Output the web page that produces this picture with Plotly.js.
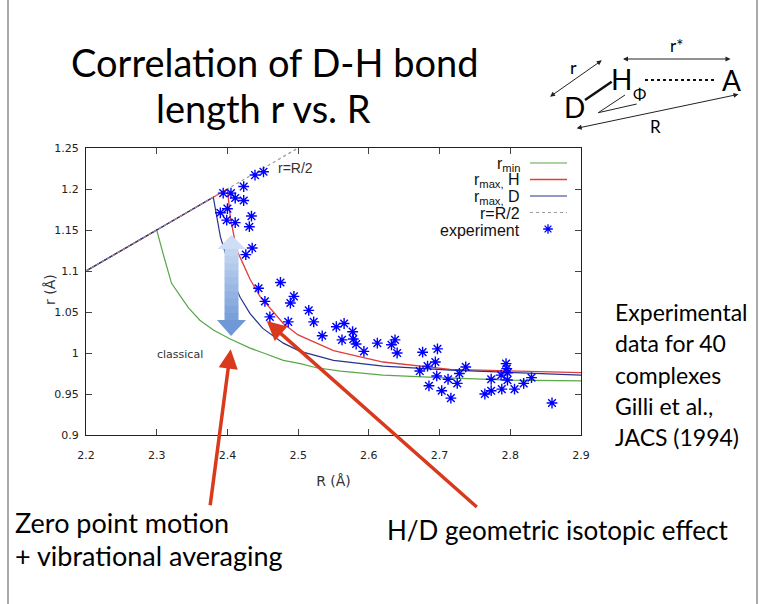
<!DOCTYPE html>
<html><head><meta charset="utf-8">
<script src="https://cdn.plot.ly/plotly-3.0.1.min.js"></script>
<style>html,body{margin:0;padding:0;background:#fff;}#chart{width:771px;height:604px;}</style>
</head><body><div id="chart"></div>
<script>
// ---- data ----
const rMinR = [2.2,2.3,2.31,2.321,2.333,2.345,2.361,2.38,2.404,2.432,2.451,2.479,2.503,2.526,2.56,2.62,2.7,2.8,2.9];
const rMinr = [1.1,1.15,1.118,1.085,1.07,1.055,1.04,1.028,1.017,1.006,1.0,0.991,0.987,0.982,0.978,0.973,0.97,0.967,0.966];
const rMaxHR = [2.2,2.3,2.4,2.404,2.408,2.413,2.422,2.432,2.446,2.465,2.479,2.5,2.55,2.62,2.715,2.9];
const rMaxHr = [1.1,1.15,1.2,1.166,1.146,1.126,1.109,1.09,1.069,1.05,1.036,1.022,1.003,0.989,0.98,0.976];
const rMaxDR = [2.2,2.3,2.38,2.385,2.39,2.397,2.404,2.41,2.418,2.432,2.45,2.479,2.503,2.55,2.62,2.715,2.9];
const rMaxDr = [1.1,1.15,1.19,1.166,1.142,1.122,1.1,1.083,1.068,1.048,1.03,1.012,1.002,0.991,0.984,0.979,0.973];
const halfR = [2.2,2.5];
const halfr = [1.1,1.25];
const expR = [2.439,2.451,2.423,2.394,2.405,2.411,2.423,2.390,2.400,2.399,2.411,2.434,2.431,2.435,2.426,
  2.444,2.475,2.453,2.494,2.489,2.460,2.486,2.515,2.522,2.534,2.554,2.565,2.562,2.577,2.578,2.582,2.593,2.612,2.637,2.632,2.640,
  2.676,2.697,2.694,2.683,2.672,2.696,2.685,2.703,2.712,2.716,2.725,2.728,2.737,2.764,2.773,2.773,2.787,2.788,2.794,2.795,2.796,2.796,2.806,2.819,2.830,2.859];
const expr = [1.217,1.221,1.203,1.195,1.195,1.189,1.186,1.171,1.176,1.162,1.159,1.167,1.154,1.128,1.120,
  1.079,1.086,1.063,1.069,1.061,1.044,1.038,1.052,1.038,1.021,1.032,1.036,1.016,1.026,1.017,1.011,1.002,1.012,1.016,1.010,1.000,
  1.001,1.005,0.989,0.984,0.978,0.972,0.960,0.954,0.968,0.945,0.963,0.975,0.983,0.950,0.954,0.968,0.973,0.956,0.987,0.981,0.976,0.967,0.956,0.963,0.970,0.939];
const xTickVals = [2.2,2.3,2.4,2.5,2.6,2.7,2.8,2.9];
const xTickText = ['2.2','2.3','2.4','2.5','2.6','2.7','2.8','2.9'];
const yTickVals = [0.9,0.95,1,1.05,1.1,1.15,1.2,1.25];
const yTickText = ['0.9','0.95','1','1.05','1.1','1.15','1.2','1.25'];
const legendLabels = ['r<sub>min</sub>','r<sub>max,</sub> H','r<sub>max,</sub> D','r=R/2','experiment'];

// ---- geometry helpers (pixel -> paper) ----
const W=771, H=604, ML=86, MR=190, MT=148, MB=169;
const PW=W-ML-MR, PH=H-MT-MB;
const px = v => (v-ML)/PW;
const py = v => (H-MB-v)/PH;

const GREEN='#58a846', RED='#e23c3c', BLUE='#27348b', PTS='#0000ff', ARROW='#d9391c';

const traces = [
  {x:rMinR, y:rMinr, mode:'lines', line:{color:GREEN,width:1.2}, hoverinfo:'skip'},
  {x:rMaxHR, y:rMaxHr, mode:'lines', line:{color:RED,width:1.3}, hoverinfo:'skip'},
  {x:rMaxDR, y:rMaxDr, mode:'lines', line:{color:BLUE,width:1.2}, hoverinfo:'skip'},
  {x:halfR, y:halfr, mode:'lines', line:{color:'#9a9a9a',width:1.2,dash:'dot'}, hoverinfo:'skip'},
  {x:expR, y:expr, mode:'markers', marker:{symbol:'asterisk-open',size:9,color:PTS,line:{color:PTS,width:1.4}}, hoverinfo:'skip'},
  // legend sample marker, on an overlay axis in plot-fraction units
  {x:[px(548)], y:[py(229)], xaxis:'x2', yaxis:'y2', mode:'markers', cliponaxis:false,
   marker:{symbol:'asterisk-open',size:8,color:PTS,line:{color:PTS,width:1.3}}, hoverinfo:'skip'}
];

const shapes = [];
const annotations = [];
function pline(x0,y0,x1,y1,color,width,dash){
  shapes.push({type:'line',xref:'paper',yref:'paper',x0:px(x0),y0:py(y0),x1:px(x1),y1:py(y1),
    line:{color:color,width:width,dash:dash||'solid'},layer:'above'});
}
function ptext(text,x,y,size,family,color,xanchor,angle){
  annotations.push({text:text,xref:'paper',yref:'paper',x:px(x),y:py(y),showarrow:false,textangle:angle||0,
    xanchor:xanchor||'center',yanchor:'middle',font:{size:size,family:family,color:color||'#000'}});
}
function parrow(tipx,tipy,tailx,taily,color,width,size,head,both){
  const a = {text:'',xref:'paper',yref:'paper',x:px(tipx),y:py(tipy),ax:tailx-tipx,ay:taily-tipy,
    showarrow:true,arrowcolor:color,arrowwidth:width,arrowsize:size,arrowhead:head,standoff:0,startstandoff:0};
  if(both){a.arrowside='end+start'; a.startarrowhead=head; a.startarrowsize=size;}
  annotations.push(a);
}

// slide border lines
shapes.push({type:'line',xref:'paper',yref:'paper',x0:px(8),x1:px(8),y0:py(0),y1:py(604),line:{color:'#555',width:1}});
shapes.push({type:'line',xref:'paper',yref:'paper',x0:px(757),x1:px(757),y0:py(0),y1:py(604),line:{color:'#555',width:1}});

// legend
const legY = [163,179.5,196,212.5,229];
pline(530,legY[0],567,legY[0],GREEN,1.2);
pline(530,legY[1],567,legY[1],RED,1.6);
pline(530,legY[2],567,legY[2],BLUE,1.2);
pline(530,legY[3],567,legY[3],'#9a9a9a',1.2,'dot');
legendLabels.forEach((t,i)=>ptext(t,522,legY[i]+1,16,'Liberation Sans, Arial, sans-serif','#111','right'));

// in-plot labels
annotations.push({text:'r=R/2',x:2.496,y:1.226,xref:'x',yref:'y',showarrow:false,font:{family:'Liberation Sans, Arial',size:14,color:'#333'}});
annotations.push({text:'classical',x:2.333,y:0.998,xref:'x',yref:'y',showarrow:false,font:{family:'DejaVu Sans',size:11,color:'#333'}});
// y axis title (placed like the reference)
ptext('r (Å)',50,290,14,'DejaVu Sans','#333','center',-90);

// blue gradient double arrow (bands)
function hex(c){return [parseInt(c.slice(1,3),16),parseInt(c.slice(3,5),16),parseInt(c.slice(5,7),16)];}
function mix(a,b,t){const A=hex(a),B=hex(b);return 'rgb('+A.map((v,i)=>Math.round(v+(B[i]-v)*t)).join(',')+')';}
const cTop='#d2e2f7', cBot='#6a94d4';
const yTip=235, yHeadT=249, yHeadB=320, yTipB=336;
const pth = pts => 'M'+pts.map(p=>px(p[0])+','+py(p[1])).join(' L')+' Z';
shapes.push({type:'path',xref:'paper',yref:'paper',path:pth([[231.5,yTip],[245.5,yHeadT],[217.5,yHeadT]]),fillcolor:mix(cTop,cBot,0.05),line:{width:0},layer:'above'});
const nb=10;
for(let i=0;i<nb;i++){
  const y0=yHeadT+(yHeadB-yHeadT)*i/nb, y1=yHeadT+(yHeadB-yHeadT)*(i+1)/nb+0.6;
  shapes.push({type:'rect',xref:'paper',yref:'paper',x0:px(224.5),x1:px(238.5),y0:py(y0),y1:py(y1),
    fillcolor:mix(cTop,cBot,0.12+0.76*(i+0.5)/nb),line:{width:0},layer:'above'});
}
shapes.push({type:'path',xref:'paper',yref:'paper',path:pth([[217,yHeadB],[246,yHeadB],[231,yTipB]]),fillcolor:mix(cTop,cBot,0.95),line:{width:0},layer:'above'});

// red arrows
parrow(230.7,349.3,210,506.7,ARROW,3.5,1.1,2);
parrow(266.7,321,478.3,508.3,ARROW,3.5,1.1,2);

// slide texts
const SF='Lato, Open Sans, sans-serif';
ptext('Correlation of D-H bond',275,62,38,SF);
ptext('length r vs. R',263,108,38,SF);
['Experimental','data for 40','complexes','Gilli et al.,','JACS (1994)'].forEach((t,i)=>ptext(t,613,312+i*31.3,23,SF,'#000','left'));
ptext('Zero point motion',13,522,27,SF,'#000','left');
ptext('+ vibrational averaging',13,555,27,SF,'#000','left');
ptext('H/D geometric isotopic effect',385,530,26,SF,'#000','left');

// top-right diagram
ptext('r*',676,45,17,SF);
parrow(623,59,732,59,'#222',1,1,2,true);
ptext('H',621.5,79,28,SF);
pline(645,80,715,80,'#111',2,'dot');
ptext('A',731.7,80,28,SF);
ptext('D',574,107.5,28,SF);
pline(585,100,611.7,81.7,'#111',2.5);
ptext('r',573,67,18,SF);
parrow(550,96.7,603.3,59.3,'#222',1,1,2,true);
ptext('Φ',639,93,16,SF);
pline(598.3,112.7,625,95,'#222',1);
pline(598.3,112.7,636.7,104,'#222',1);
parrow(576.7,128.3,740,94,'#222',1,1,2,true);
ptext('R',655,127,17,SF);

const axisCommon = {showgrid:false, zeroline:false, showline:true, linecolor:'#222', linewidth:1,
  ticks:'inside', ticklen:6, tickcolor:'#444', tickwidth:1, mirror:'ticks',
  tickfont:{family:'DejaVu Sans',size:11,color:'#222'}};

const layout = {
  width:W, height:H, margin:{l:ML,r:MR,t:MT,b:MB,pad:0},
  paper_bgcolor:'#fff', plot_bgcolor:'#fff', showlegend:false,
  xaxis:Object.assign({}, axisCommon, {range:[2.2,2.9], tickmode:'array', tickvals:xTickVals, ticktext:xTickText,
    ticklabelstandoff:10,
    title:{text:'R (Å)', font:{family:'DejaVu Sans',size:14,color:'#333'}, standoff:14}}),
  yaxis:Object.assign({}, axisCommon, {range:[0.9,1.25], tickmode:'array', tickvals:yTickVals, ticktext:yTickText,
    ticklabelstandoff:4}),
  xaxis2:{overlaying:'x', range:[0,1], visible:false, fixedrange:true},
  yaxis2:{overlaying:'y', range:[0,1], visible:false, fixedrange:true},
  shapes:shapes, annotations:annotations
};
Plotly.newPlot('chart', traces, layout, {staticPlot:true, displayModeBar:false});
</script></body></html>
